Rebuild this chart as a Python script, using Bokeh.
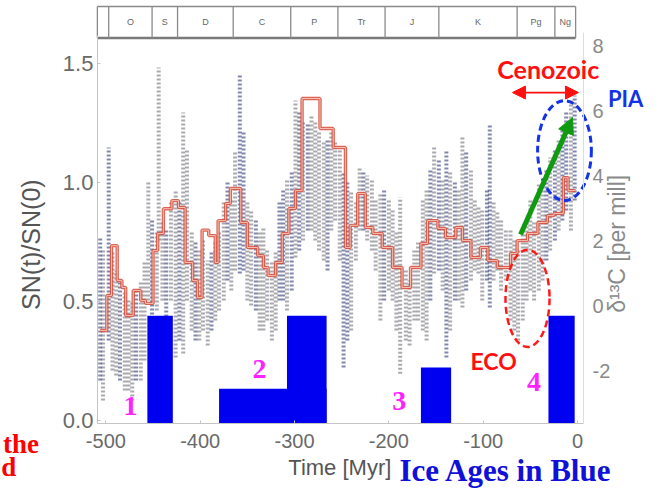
from bokeh.plotting import figure
from bokeh.models import Range1d, LinearAxis, Label, Arrow, NormalHead, FixedTicker, NumeralTickFormatter
from bokeh.embed import file_html
from bokeh.resources import INLINE
import math

# ---------------- data ----------------
x_ticks = [-500, -400, -300, -200, -100, 0]
y_ticks = [0.0, 0.5, 1.0, 1.5]
d13c_ticks = [-2, 0, 2, 4, 6, 8]

# geologic periods (Myr)
period_edges = [-509, -497, -451, -424, -365, -304, -254, -204, -147, -64, -24, -2]
period_names = ["", "O", "S", "D", "C", "P", "Tr", "J", "K", "Pg", "Ng"]

# red step curve: edges (Myr) and SN(t)/SN(0) values
step_edges = [-506, -499, -494, -488, -483, -479, -471, -463, -458, -450, -445, -439, -430,
              -423, -416, -408, -403, -398, -391, -384, -381, -373, -368, -357, -350, -339,
              -333, -328, -320, -313, -306, -299, -292, -273, -259, -246, -241, -233, -225,
              -217, -207, -196, -186, -177, -166, -159, -148, -140, -129, -122, -113, -103,
              -95, -85, -71, -64, -53, -42, -32, -25, -15, -10, -2]
step_vals = [0.378, 0.525, 0.735, 0.588, 0.559, 0.441, 0.546, 0.504, 0.492, 0.714, 0.786,
             0.890, 0.924, 0.895, 0.664, 0.588, 0.517, 0.800, 0.777, 0.664, 0.840, 0.912,
             0.975, 0.832, 0.727, 0.693, 0.643, 0.609, 0.664, 0.786, 0.891, 0.966, 1.353,
             1.227, 1.147, 0.727, 0.820, 0.954, 0.811, 0.786, 0.727, 0.643, 0.559, 0.643,
             0.744, 0.840, 0.807, 0.769, 0.811, 0.756, 0.685, 0.727, 0.672, 0.643, 0.702,
             0.756, 0.786, 0.832, 0.861, 0.870, 1.020, 0.966]

# scatter cloud summarised as vertical streaks: time, low, high, tone (g=grey, n=navy)
streak_t = [-506, -503, -497, -493, -489, -485, -480, -476, -472, -468, -463, -459, -455,
            -451, -446, -444, -440, -436, -431, -426, -422, -418, -414, -409, -405, -401,
            -397, -392, -388, -384, -380, -375, -371, -367, -363, -358, -354, -350, -346,
            -341, -337, -333, -329, -324, -320, -316, -312, -308, -303, -299, -295, -291,
            -286, -282, -278, -274, -269, -265, -261, -257, -252, -248, -244, -240, -235,
            -231, -227, -223, -218, -214, -209, -205, -200, -196, -192, -188, -182, -178,
            -173, -169, -164, -160, -156, -152, -147, -143, -139, -135, -130, -126, -122,
            -118, -113, -109, -105, -101, -96, -93, -89, -85, -81, -76, -71, -67, -63, -58,
            -54, -50, -46, -41, -37, -33, -29, -24, -20, -16, -12, -7, -3]
streak_lo = [0.168, 0.084, 0.336, 0.210, 0.189, 0.168, 0.126, 0.126, 0.084, 0.168, 0.168,
             0.252, 0.504, 0.378, 0.462, 0.756, 0.504, 0.420, 0.504, 0.265, 0.336, 0.282,
             0.504, 0.378, 0.336, 0.336, 0.378, 0.315, 0.378, 0.420, 0.462, 0.504, 0.588,
             0.546, 0.630, 0.618, 0.630, 0.504, 0.483, 0.462, 0.378, 0.378, 0.420, 0.336,
             0.378, 0.504, 0.504, 0.462, 0.546, 0.685, 0.714, 0.756, 0.798, 0.798, 0.756,
             0.714, 0.672, 0.630, 0.798, 0.840, 0.672, 0.223, 0.336, 0.378, 0.672, 0.798,
             0.798, 0.756, 0.714, 0.630, 0.420, 0.504, 0.546, 0.504, 0.378, 0.197, 0.336,
             0.315, 0.420, 0.420, 0.378, 0.336, 0.504, 0.618, 0.630, 0.546, 0.265, 0.378,
             0.504, 0.504, 0.475, 0.546, 0.588, 0.630, 0.618, 0.504, 0.588, 0.475, 0.588,
             0.630, 0.546, 0.588, 0.420, 0.378, 0.336, 0.420, 0.504, 0.546, 0.504, 0.546,
             0.588, 0.672, 0.714, 0.756, 0.798, 0.840, 0.882, 0.798, 0.924]
streak_hi = [0.769, 0.714, 1.147, 0.714, 0.630, 0.588, 0.546, 0.504, 0.504, 0.546, 0.588,
             0.672, 1.008, 0.840, 0.798, 1.483, 0.840, 0.798, 0.924, 0.966, 0.924, 1.294,
             1.134, 0.798, 0.756, 0.714, 0.756, 0.672, 0.714, 0.756, 0.798, 0.924, 1.008,
             0.924, 1.134, 1.458, 1.218, 0.924, 0.882, 0.840, 0.798, 0.811, 0.714, 0.672,
             0.714, 0.924, 0.966, 1.008, 1.050, 1.345, 1.303, 1.261, 1.248, 1.282, 1.261,
             1.218, 1.176, 1.176, 1.218, 1.176, 1.134, 1.038, 1.008, 0.966, 0.924, 1.063,
             1.050, 1.029, 1.008, 0.924, 0.954, 0.966, 0.924, 0.882, 0.798, 0.937, 0.630,
             0.588, 0.714, 0.756, 0.924, 0.966, 1.050, 1.147, 1.092, 1.008, 1.134, 1.050,
             1.008, 0.966, 1.189, 1.134, 1.050, 0.924, 0.895, 0.882, 0.966, 1.248, 0.924,
             0.882, 0.840, 0.798, 0.798, 0.756, 0.714, 0.798, 0.840, 0.924, 0.840, 0.996,
             0.966, 1.050, 1.105, 1.134, 1.176, 1.218, 1.303, 1.345, 1.366]
streak_tone = list("ngnggngggn" "gggngggngg" "ngggngggng" "ggnggnnggn" "gggggnngng"
                   "ngnggggngg" "gnngggnggg" "gngggggggg" "ggngngngng" "gnggggnngg"
                   "gggggggggg" "gngngnngn")

# ice ages (blue bars): start, end, top (SN units)
ice_start = [-456, -380, -308, -166, -31]
ice_end = [-429, -266, -266, -134, -3]
ice_top = [0.44, 0.134, 0.44, 0.223, 0.44]
ice_names = ["1", "2", "3", "4"]
ice_name_t = [-474, -337, -189, -46]
ice_name_sn = [0.063, 0.218, 0.084, 0.160]

# ------------------------------------------------------------------
# axis extents (the plotted area) and the whole canvas extents in data units
X_AX = (-509, 6.4)
Y_AX = (-0.013, 1.618)
D_AX = (-3.63, 8.4)
XR = (-611.7, 95.4)
YR = (-0.294, 1.7647)
DR = (-5.692, 9.385)

p = figure(width=667, height=490, output_backend="svg", toolbar_location=None,
           x_range=Range1d(*XR), y_range=Range1d(*YR), title=None, min_border=0)
p.outline_line_color = None
p.grid.visible = False
p.background_fill_color = "white"
p.border_fill_color = "white"

tick_font = "Liberation Sans"
tick_color = "#6a6a6a"
axis_color = "#c4c4c4"

for ax in (p.xaxis[0], p.yaxis[0]):
    ax.axis_line_color = axis_color
    ax.major_tick_line_color = axis_color
    ax.minor_tick_line_color = None
    ax.major_tick_in = 3
    ax.major_tick_out = 0
    ax.major_label_text_font = tick_font
    ax.major_label_text_color = tick_color

p.xaxis.fixed_location = Y_AX[0]
p.xaxis.bounds = X_AX
p.xaxis.ticker = FixedTicker(ticks=x_ticks)
p.xaxis.major_label_overrides = {t: str(t) for t in x_ticks}
p.xaxis.major_label_standoff = 10
p.xaxis.major_label_text_font_size = "20px"
p.yaxis.fixed_location = X_AX[0]
p.yaxis.bounds = Y_AX
p.yaxis.ticker = FixedTicker(ticks=y_ticks)
p.yaxis.formatter = NumeralTickFormatter(format="0.0")
p.yaxis.major_label_standoff = 4
p.yaxis.major_label_text_font_size = "22px"

p.extra_y_ranges = {"d13c": Range1d(*DR)}
rax = LinearAxis(y_range_name="d13c", ticker=FixedTicker(ticks=d13c_ticks),
                 fixed_location=X_AX[1], bounds=D_AX)
rax.major_label_overrides = {t: str(t) for t in d13c_ticks}
rax.axis_line_color = "#dddddd"
rax.major_tick_line_color = None
rax.minor_tick_line_color = None
rax.major_label_text_font = tick_font
rax.major_label_text_font_size = "20px"
rax.major_label_text_color = "#8a8a8a"
rax.major_label_standoff = 3
p.add_layout(rax, "right")

# ---- geologic period strip ----
strip_lo, strip_hi = 1.607, 1.739
p.segment(x0=[period_edges[0]], y0=[strip_hi], x1=[period_edges[-1]], y1=[strip_hi],
          line_color="#8a8a8a", line_width=1.5)
p.segment(x0=[period_edges[0]], y0=[strip_lo], x1=[period_edges[-1]], y1=[strip_lo],
          line_color="#7a7a7a", line_width=2.5)
p.segment(x0=period_edges, y0=[strip_lo] * len(period_edges), x1=period_edges,
          y1=[strip_hi] * len(period_edges), line_color="#8a8a8a", line_width=1.3)
mids = [(period_edges[i] + period_edges[i + 1]) / 2 for i in range(len(period_names))]
p.text(x=mids, y=[(strip_lo + strip_hi) / 2] * len(mids), text=period_names,
       text_align="center", text_baseline="middle", text_font_size="9px", text_color="#666666")

# ---- scatter cloud ----
tone_col = {"g": "#74747e", "n": "#363d7a"}
cols = [tone_col[c] for c in streak_tone]
p.segment(x0=streak_t, y0=streak_lo, x1=streak_t, y1=streak_hi, line_color=cols,
          line_width=4, line_alpha=0.62, line_dash="2 2")

# ---- red step curve ----
p.step(x=step_edges, y=step_vals + [step_vals[-1]], mode="after", line_color="#d64a38",
       line_width=3.4, line_alpha=0.85)
p.step(x=step_edges, y=step_vals + [step_vals[-1]], mode="after", line_color="#f6c9bb",
       line_width=1.0, line_alpha=0.9)

# ---- ice ages ----
p.quad(left=ice_start, right=ice_end, bottom=[Y_AX[0]] * len(ice_start), top=ice_top,
       fill_color="#0000f0", line_color=None)
# white patch from the annotated slide
p.quad(left=[-54], right=[-31], bottom=[Y_AX[0] - 0.02], top=[0.462], fill_color="white", line_color=None)

for name, t, s in zip(ice_names, ice_name_t, ice_name_sn):
    p.add_layout(Label(x=t, y=s, text=name, text_align="center", text_baseline="middle",
                       text_font="Liberation Serif", text_font_style="bold",
                       text_font_size="28px", text_color="#ff22ff"))

# ---- annotations ----
p.ellipse(x=[-13.8], y=[1.134], width=[57], height=[0.42], fill_color=None,
          line_color="#1533e6", line_width=3, line_dash="7 4")
p.ellipse(x=[-53], y=[0.513], width=[46.7], height=[0.408], fill_color=None,
          line_color="#ff1a1a", line_width=2.5, line_dash="7 4")

p.add_layout(Arrow(start=NormalHead(size=13, fill_color="#ff1010", line_color="#ff1010"),
                   end=NormalHead(size=13, fill_color="#ff1010", line_color="#ff1010"),
                   x_start=-69, y_start=1.378, x_end=1, y_end=1.378,
                   line_color="#ff1010", line_width=1.8))
p.add_layout(Arrow(end=NormalHead(size=16, fill_color="#109a10", line_color="#109a10"),
                   x_start=-60.4, y_start=0.782, x_end=-5.3, y_end=1.273,
                   line_color="#109a10", line_width=5))

p.add_layout(Label(x=-31, y=1.475, text="Cenozoic", text_align="center", text_baseline="middle",
                   text_font="Lato", text_font_style="bold", text_font_size="25px", text_color="#ff1010"))
p.add_layout(Label(x=51, y=1.353, text="PIA", text_align="center", text_baseline="middle",
                   text_font="Lato", text_font_style="bold", text_font_size="22px", text_color="#1533e6"))
p.add_layout(Label(x=-89, y=0.252, text="ECO", text_align="center", text_baseline="middle",
                   text_font="Lato", text_font_style="bold", text_font_size="23px", text_color="#ff1010"))

# axis titles
p.add_layout(Label(x=-579, y=0.739, text="SN(t)/SN(0)", angle=math.pi / 2, text_align="center",
                   text_baseline="middle", text_font="Liberation Sans", text_font_size="25px",
                   text_color="#555555"))
p.add_layout(Label(x=-252, y=-0.197, text="Time [Myr]", text_align="center", text_baseline="middle",
                   text_font="Liberation Sans", text_font_size="22px", text_color="#555555"))
p.add_layout(Label(x=42, y=0.756, text="δ¹³C  [per mill]", angle=math.pi / 2, text_align="center",
                   text_baseline="middle", text_font="Liberation Sans", text_font_size="23px",
                   text_color="#8a8a8a"))

# slide texts
p.add_layout(Label(x=-76, y=-0.212, text="Ice Ages in Blue", text_align="center", text_baseline="middle",
                   text_font="Liberation Serif", text_font_style="bold", text_font_size="31px",
                   text_color="#1010d8"))
p.add_layout(Label(x=-609, y=-0.097, text="the", text_align="left", text_baseline="middle",
                   text_font="Liberation Serif", text_font_style="bold", text_font_size="27px",
                   text_color="#ff0000"))
p.add_layout(Label(x=-611, y=-0.197, text="d", text_align="left", text_baseline="middle",
                   text_font="Liberation Serif", text_font_style="bold", text_font_size="27px",
                   text_color="#ff0000"))

open("out.html", "w").write(file_html(p, INLINE))
